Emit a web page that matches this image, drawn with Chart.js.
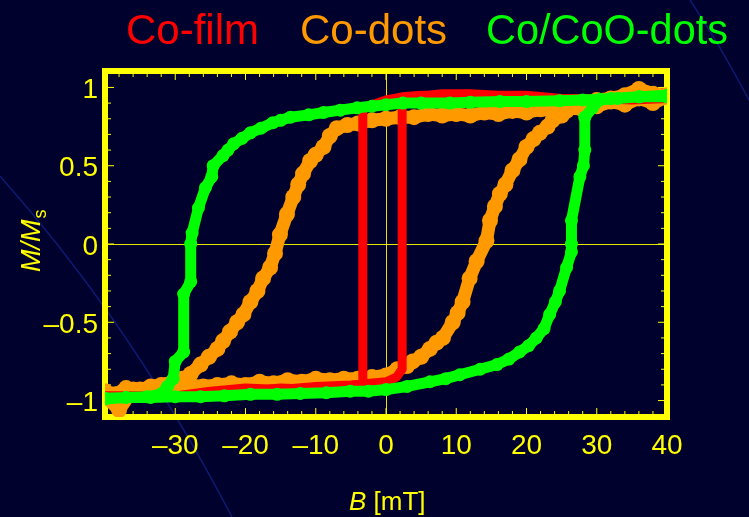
<!DOCTYPE html>
<html>
<head>
<meta charset="utf-8">
<script src="https://cdn.jsdelivr.net/npm/chart.js@4.4.1/dist/chart.umd.min.js"></script>
<style>
  html, body { margin: 0; padding: 0; background: #01012e; overflow: hidden; }
  canvas { display: block; }
</style>
</head>
<body>
<canvas id="loops" width="749" height="517"></canvas>
<script>
// tick labels
const bTicks = [-30, -20, -10, 0, 10, 20, 30, 40];
const mTicks = [-1, -0.5, 0, 0.5, 1];

// Co-film: descending branch, then ascending branch (B in mT, M/Ms)
const filmDownB = [40, 35, 30, 25, 20, 15, 10, 5, 2.3, 0, -2, -3.3, -3.3, -5, -10, -15, -20, -25, -30, -35, -40];
const filmDownM = [0.93, 0.92, 0.93, 0.93, 0.94, 0.95, 0.95, 0.95, 0.94, 0.92, 0.89, 0.87, -0.91, -0.92, -0.93, -0.92, -0.94, -0.95, -0.97, -0.97, -0.97];
const filmUpB = [-40, -35, -30, -25, -20, -15, -10, -5, 0, 1.5, 2.3, 2.3, 4, 8, 12, 16, 20, 25, 30, 35, 40];
const filmUpM = [-0.98, -0.97, -0.97, -0.94, -0.92, -0.93, -0.91, -0.9, -0.88, -0.85, -0.8, 0.91, 0.94, 0.96, 0.96, 0.95, 0.95, 0.93, 0.93, 0.92, 0.93];

// Co-dots
const dotsDownB = [40, 38, 36, 34, 32, 30, 28, 26, 24, 22, 20, 18, 16, 14, 12, 10, 8, 6, 4, 2, 0, -2, -4, -5.5, -7, -8, -8.9, -10, -10.8, -11.8, -12.5, -13.2, -14.1, -15.1, -15.8, -16.5, -17.5, -18.3, -19.3, -20.3, -21.2, -22.2, -23.2, -24, -25.2, -26.4, -27.8, -29, -30.3, -32, -33.5, -35, -37, -38.5, -40];
const dotsDownM = [0.94, 0.9, 0.93, 0.89, 0.91, 0.88, 0.86, 0.87, 0.85, 0.86, 0.84, 0.85, 0.83, 0.84, 0.82, 0.83, 0.82, 0.83, 0.81, 0.81, 0.8, 0.79, 0.77, 0.76, 0.74, 0.69, 0.62, 0.57, 0.53, 0.45, 0.38, 0.3, 0.19, 0.06, -0.06, -0.15, -0.22, -0.3, -0.37, -0.45, -0.5, -0.56, -0.62, -0.67, -0.72, -0.77, -0.83, -0.86, -0.88, -0.9, -0.91, -0.93, -0.92, -0.96, -0.94];
const dotsUpB = [-40, -38, -36, -34, -32, -30, -28, -26, -24, -22, -20, -18, -16, -14, -12, -10, -8, -6, -4, -2, 0, 1.6, 3, 3.8, 5, 6.25, 7.2, 8.1, 9.5, 10.2, 10.9, 11.9, 12.9, 14.3, 14.8, 15.5, 16.2, 17, 18, 19, 20, 21, 21.9, 23, 23.7, 25, 25.7, 27, 28.6, 30, 32, 34, 36, 38, 40];
const dotsUpM = [-0.97, -1.06, -0.93, -0.96, -0.92, -0.93, -0.9, -0.91, -0.9, -0.89, -0.9, -0.88, -0.89, -0.87, -0.88, -0.86, -0.87, -0.86, -0.86, -0.85, -0.84, -0.8, -0.78, -0.75, -0.72, -0.67, -0.63, -0.6, -0.5, -0.44, -0.37, -0.22, -0.11, 0.02, 0.15, 0.24, 0.32, 0.38, 0.47, 0.54, 0.62, 0.67, 0.71, 0.75, 0.79, 0.82, 0.85, 0.88, 0.9, 0.92, 0.93, 0.95, 0.99, 0.96, 0.95];

// Co/CoO-dots
const cooDownB = [40, 36, 32, 30.4, 28, 24.7, 20, 16.2, 12, 9.1, 5, 2.4, 0, -2, -4.1, -6.5, -8.9, -11, -13.6, -15, -16.1, -17.8, -19.3, -20.5, -21.7, -22.5, -23.2, -24.6, -24.8, -25.7, -26.7, -27.6, -27.8, -27.8, -28.8, -28.8, -30, -30.3, -31.1, -32.1, -34, -37, -40];
const cooDownM = [0.94, 0.94, 0.93, 0.925, 0.92, 0.915, 0.91, 0.91, 0.905, 0.9, 0.9, 0.9, 0.89, 0.88, 0.87, 0.855, 0.84, 0.825, 0.81, 0.79, 0.775, 0.74, 0.71, 0.675, 0.64, 0.6, 0.565, 0.5, 0.43, 0.36, 0.23, 0.07, 0, -0.24, -0.32, -0.69, -0.75, -0.86, -0.91, -0.96, -0.975, -0.98, -0.985];
const cooUpB = [-40, -37, -33.5, -30, -26.4, -23, -19.3, -15.5, -12.2, -8.5, -5.1, -2.5, 0, 3, 6.25, 8.5, 10.5, 13.4, 15.8, 17.5, 19, 20.3, 21.4, 22.5, 23.3, 24.1, 24.7, 25.7, 26.4, 26.4, 26.4, 27.6, 28.1, 28.3, 28.3, 29.4, 30.4, 33, 36.1, 40];
const cooUpM = [-0.99, -0.98, -0.98, -0.975, -0.975, -0.97, -0.96, -0.96, -0.955, -0.95, -0.94, -0.94, -0.93, -0.91, -0.88, -0.86, -0.835, -0.8, -0.77, -0.735, -0.69, -0.65, -0.6, -0.54, -0.45, -0.37, -0.3, -0.15, -0.05, 0, 0.15, 0.43, 0.5, 0.6, 0.81, 0.87, 0.92, 0.93, 0.94, 0.95];

const YELLOW = "#ffff00";
const RED = "#ff0000";
const ORANGE = "#ff9900";
const GREEN = "#00ff00";
const FONT = "'Liberation Sans', Arial, Helvetica, sans-serif";

function pairs(xs, ys) {
  return xs.map((x, i) => ({ x, y: ys[i] }));
}

function loop(downB, downM, upB, upM) {
  return pairs(downB, downM).concat(pairs(upB, upM));
}

function fmt(v) {
  return v < 0 ? "\u2013" + String(Math.abs(v)) : String(v);
}

function loopSet(label, data, color, width, radius, order) {
  return {
    label,
    data,
    showLine: true,
    tension: 0,
    borderColor: color,
    backgroundColor: color,
    borderWidth: width,
    borderJoinStyle: "round",
    borderCapStyle: "round",
    pointRadius: radius,
    pointBorderWidth: 0,
    pointBackgroundColor: color,
    order
  };
}

// faint slide decoration behind the chart
const backdrop = {
  id: "backdrop",
  beforeDraw(chart) {
    const ctx = chart.ctx;
    ctx.save();
    ctx.strokeStyle = "#0c1a70";
    ctx.lineWidth = 1.5;
    ctx.beginPath();
    ctx.moveTo(0, 176);
    ctx.bezierCurveTo(70, 255, 150, 360, 232, 517);
    ctx.stroke();
    ctx.beginPath();
    ctx.moveTo(690, 0);
    ctx.quadraticCurveTo(720, 45, 749, 100);
    ctx.stroke();
    ctx.restore();
  }
};

// thick yellow box with small inward ticks
const frame = {
  id: "frame",
  beforeDatasetsDraw(chart) {
    const { ctx, chartArea: a, scales } = chart;
    ctx.save();
    ctx.strokeStyle = YELLOW;
    ctx.lineWidth = 1;
    for (let v = -40; v <= 40; v += 2) {
      const px = scales.x.getPixelForValue(v);
      const len = v % 10 === 0 ? 6 : 3;
      ctx.beginPath();
      ctx.moveTo(px, a.bottom); ctx.lineTo(px, a.bottom - len - 3);
      ctx.moveTo(px, a.top); ctx.lineTo(px, a.top + len + 3);
      ctx.stroke();
    }
    for (let k = -11; k <= 11; k++) {
      const py = scales.y.getPixelForValue(k / 10);
      const len = k % 5 === 0 ? 6 : 3;
      ctx.beginPath();
      ctx.moveTo(a.left, py); ctx.lineTo(a.left + len + 3, py);
      ctx.moveTo(a.right, py); ctx.lineTo(a.right - len - 3, py);
      ctx.stroke();
    }
    ctx.lineWidth = 6;
    ctx.strokeRect(a.left, a.top, a.right - a.left, a.bottom - a.top);
    ctx.restore();
  }
};

// legend texts and axis titles
const captions = {
  id: "captions",
  afterDraw(chart) {
    const ctx = chart.ctx;
    ctx.save();
    ctx.textBaseline = "alphabetic";
    ctx.textAlign = "left";
    ctx.font = "42px " + FONT;
    ctx.fillStyle = RED;
    ctx.fillText("Co-film", 126, 44);
    ctx.fillStyle = ORANGE;
    ctx.fillText("Co-dots", 300, 44);
    ctx.fillStyle = GREEN;
    ctx.fillText("Co/CoO-dots", 486, 44, 242);

    ctx.fillStyle = YELLOW;
    ctx.font = "italic 26px " + FONT;
    ctx.fillText("B", 349, 510);
    const bw = ctx.measureText("B").width;
    ctx.font = "26px " + FONT;
    ctx.fillText(" [mT]", 349 + bw, 510);

    ctx.translate(40, 272);
    ctx.rotate(-Math.PI / 2);
    ctx.font = "italic 27px " + FONT;
    ctx.fillText("M/M", 0, 0);
    const mw = ctx.measureText("M/M").width;
    ctx.font = "18px " + FONT;
    ctx.fillText("s", mw + 1, 6);
    ctx.restore();
  }
};

new Chart(document.getElementById("loops"), {
  type: "scatter",
  data: {
    datasets: [
      loopSet("Co/CoO-dots", loop(cooDownB, cooDownM, cooUpB, cooUpM), GREEN, 11, 6.5, 0),
      loopSet("Co-film", loop(filmDownB, filmDownM, filmUpB, filmUpM), RED, 9, 0, 1),
      loopSet("Co-dots", loop(dotsDownB, dotsDownM, dotsUpB, dotsUpM), ORANGE, 13, 8, 2)
    ]
  },
  options: {
    responsive: false,
    animation: false,
    devicePixelRatio: 1,
    layout: { padding: { top: 71, right: 82, left: 0, bottom: 0 } },
    plugins: { legend: { display: false }, tooltip: { enabled: false } },
    scales: {
      x: {
        type: "linear",
        min: -40,
        max: 40,
        afterFit(scale) { scale.height = 100; },
        afterBuildTicks(scale) { scale.ticks = bTicks.map((v) => ({ value: v })); },
        border: { display: false },
        grid: {
          drawTicks: false,
          lineWidth: 1,
          color: (c) => (c.tick && c.tick.value === 0 ? "#e6e600" : "transparent")
        },
        ticks: {
          color: YELLOW,
          font: { family: FONT, size: 28 },
          padding: 12,
          maxRotation: 0,
          autoSkip: false,
          callback: fmt
        }
      },
      y: {
        type: "linear",
        min: -1.105,
        max: 1.105,
        afterFit(scale) { scale.width = 105; },
        afterBuildTicks(scale) { scale.ticks = mTicks.map((v) => ({ value: v })); },
        border: { display: false },
        grid: {
          drawTicks: false,
          lineWidth: 1,
          color: (c) => (c.tick && c.tick.value === 0 ? "#e6e600" : "transparent")
        },
        ticks: {
          color: YELLOW,
          font: { family: FONT, size: 28 },
          padding: 7,
          labelOffset: 3,
          autoSkip: false,
          callback: fmt
        }
      }
    }
  },
  plugins: [backdrop, frame, captions]
});
</script>
</body>
</html>
